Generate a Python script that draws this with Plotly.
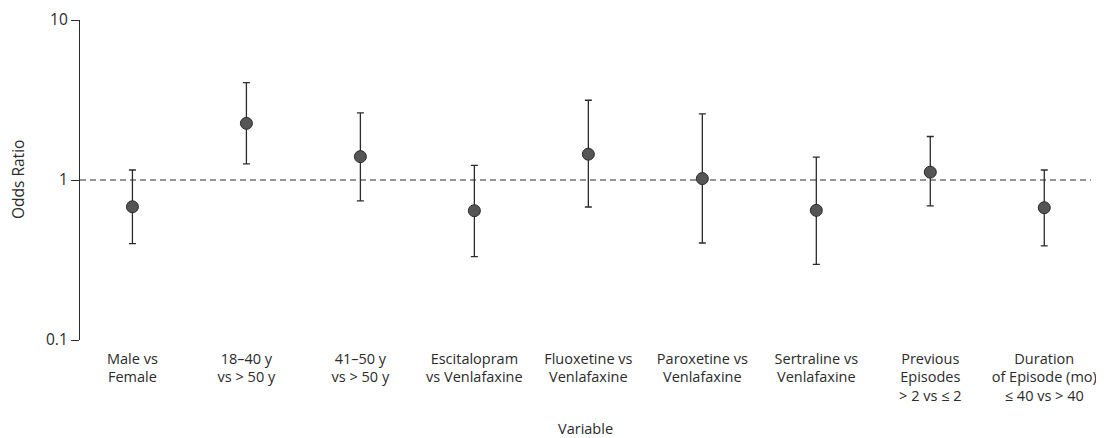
import plotly.graph_objects as go

categories = [
    "Male vs<br>Female",
    "18–40 y<br>vs > 50 y",
    "41–50 y<br>vs > 50 y",
    "Escitalopram<br>vs Venlafaxine",
    "Fluoxetine vs<br>Venlafaxine",
    "Paroxetine vs<br>Venlafaxine",
    "Sertraline vs<br>Venlafaxine",
    "Previous<br>Episodes<br>> 2 vs ≤ 2",
    "Duration<br>of Episode (mo)<br>≤ 40 vs > 40",
]
odds_ratio = [0.68, 2.26, 1.40, 0.643, 1.45, 1.02, 0.646, 1.12, 0.671]
ci_lower = [0.40, 1.26, 0.74, 0.332, 0.678, 0.404, 0.297, 0.69, 0.387]
ci_upper = [1.155, 4.06, 2.63, 1.235, 3.15, 2.59, 1.39, 1.87, 1.155]
y_tickvals = [0.1, 1, 10]
y_ticktext = ["0.1", "1", "10"]

idx = list(range(len(categories)))
err_plus = [u - o for u, o in zip(ci_upper, odds_ratio)]
err_minus = [o - l for o, l in zip(odds_ratio, ci_lower)]

FONT = "Open Sans"
INK = "#2b2b2b"
FS = 15.5
FSX = 14.5

fig = go.Figure()
fig.add_trace(go.Scatter(
    x=idx, y=odds_ratio, mode="markers",
    marker=dict(size=12, color="#555555", line=dict(color="#2b2b2b", width=1)),
    error_y=dict(type="data", symmetric=False, array=err_plus, arrayminus=err_minus,
                 color=INK, thickness=1.3, width=3.5),
    showlegend=False, hoverinfo="skip",
))

fig.add_shape(type="line", xref="paper", yref="y", x0=0, x1=1, y0=1, y1=1,
              line=dict(color=INK, width=1.1, dash="6px,4px"), layer="below")

fig.update_layout(
    width=1096, height=430,
    margin=dict(l=72, r=13, t=12, b=98),
    paper_bgcolor="white", plot_bgcolor="white",
    font=dict(family=FONT, size=FS, color=INK),
    xaxis=dict(
        range=[-0.46, 8.41], tickmode="array", tickvals=idx, ticktext=categories,
        showgrid=False, zeroline=False, showline=False, ticks="",
        ticklabelstandoff=8, ticklabeloverflow="allow", automargin=False,
        tickfont=dict(family=FONT, size=FSX, color=INK),
    ),
    yaxis=dict(
        type="log", range=[-1, 1], tickmode="array", tickvals=y_tickvals, ticktext=y_ticktext,
        showgrid=False, zeroline=False, showline=True, linecolor=INK, linewidth=1.3,
        ticks="outside", ticklen=8, tickcolor=INK, tickwidth=1.3, automargin=False,
        tickfont=dict(family=FONT, size=FS, color=INK),
    ),
    annotations=[
        dict(text="Variable", xref="paper", yref="paper", x=0.5, y=0, yshift=-88,
             showarrow=False, font=dict(family=FONT, size=FSX, color=INK), xanchor="center", yanchor="middle"),
        dict(text="Odds Ratio", xref="paper", yref="paper", x=0, y=0.5, xshift=-62,
             showarrow=False, textangle=-90, font=dict(family=FONT, size=FS, color=INK),
             xanchor="center", yanchor="middle"),
    ],
)

fig.write_html("out.html")
